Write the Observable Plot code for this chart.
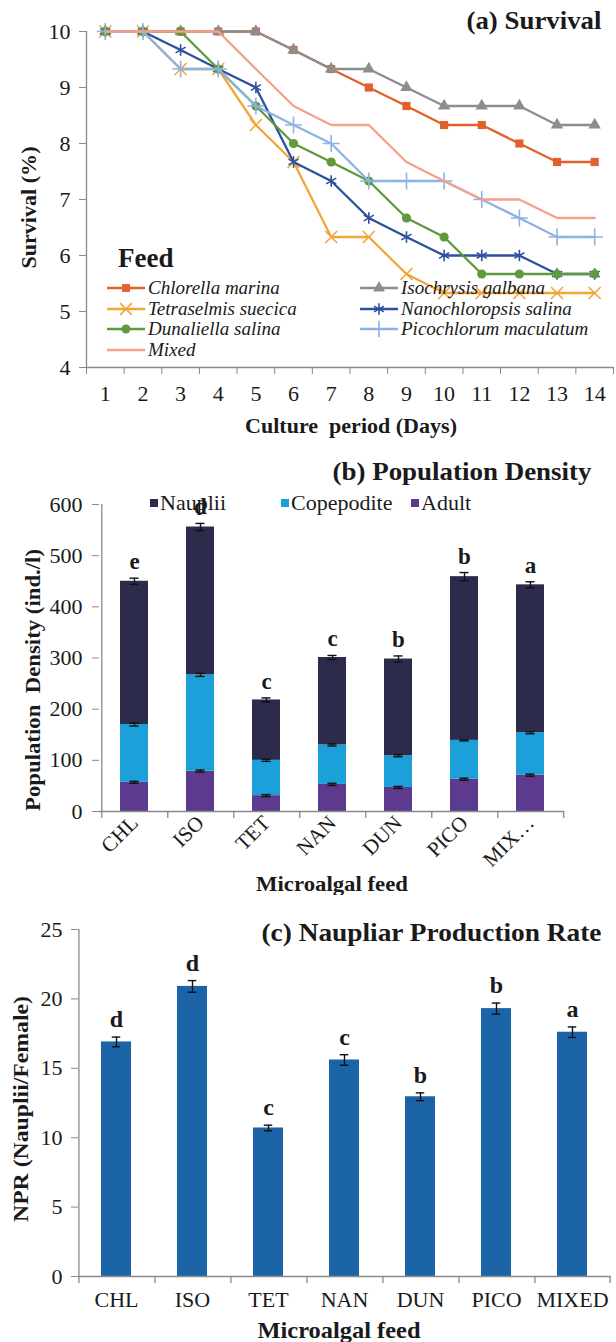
<!DOCTYPE html>
<html>
<head>
<meta charset="utf-8">
<script src="https://cdn.jsdelivr.net/npm/d3@7"></script>
<script src="https://cdn.jsdelivr.net/npm/@observablehq/plot@0.6"></script>
<style>
  body { margin: 0; background: #fff; width: 616px; font-family: "Liberation Serif", "Times New Roman", serif; color: #1a1a1a; }
  .panel { position: relative; width: 616px; }
  .panel svg { display: block; }
  .legA { position: absolute; left: 106px; top: 244px; }
  .legA .feed { font-weight: bold; font-size: 27px; line-height: 28px; margin-left: 12px; }
  .legA .grid { display: grid; grid-template-columns: 253px 262px; margin-top: 6px; }
  .legA .item { display: flex; align-items: center; height: 20.6px; font-style: italic; font-size: 19px; white-space: nowrap; }
  .legA .item svg { margin-right: 2px; }
  .legB { position: absolute; left: 150px; top: 47px; display: flex; font-size: 22px; }
  .legB .item { display: flex; align-items: center; height: 22px; white-space: nowrap; }
  .legB .sw { width: 8px; height: 8px; margin-right: 2px; }
</style>
</head>
<body>
<div id="a" class="panel"></div>
<div id="b" class="panel"></div>
<div id="c" class="panel"></div>
<script>
// ---------- Panel (a) data: Survival ----------
const days = [1, 2, 3, 4, 5, 6, 7, 8, 9, 10, 11, 12, 13, 14];
const chlorella      = [10, 10, 10, 10, 10, 9.67, 9.33, 9, 8.67, 8.33, 8.33, 8, 7.67, 7.67];
const isochrysis     = [10, 10, 10, 10, 10, 9.67, 9.33, 9.33, 9, 8.67, 8.67, 8.67, 8.33, 8.33];
const tetraselmis    = [10, 10, 9.33, 9.33, 8.33, 7.67, 6.33, 6.33, 5.67, 5.33, 5.33, 5.33, 5.33, 5.33];
const nanochloropsis = [10, 10, 9.67, 9.33, 9, 7.67, 7.33, 6.67, 6.33, 6, 6, 6, 5.67, 5.67];
const dunaliella     = [10, 10, 10, 9.33, 8.67, 8, 7.67, 7.33, 6.67, 6.33, 5.67, 5.67, 5.67, 5.67];
const picochlorum    = [10, 10, 9.33, 9.33, 8.67, 8.33, 8, 7.33, 7.33, 7.33, 7, 6.67, 6.33, 6.33];
const mixed          = [10, 10, 10, 10, 9.33, 8.67, 8.33, 8.33, 7.67, 7.33, 7, 7, 6.67, 6.67];
const seriesNames = ["Chlorella marina", "Isochrysis galbana", "Tetraselmis suecica", "Nanochloropsis salina", "Dunaliella salina", "Picochlorum maculatum", "Mixed"];
const seriesValues = [chlorella, isochrysis, tetraselmis, nanochloropsis, dunaliella, picochlorum, mixed];
const seriesColors = ["#e0612b", "#8d8d8d", "#f2a53a", "#2f4f9f", "#5f9a3c", "#8db3e2", "#f5a08d"];
const seriesSymbols = ["square", "triangle", "times", "asterisk", "circle", "plus", null];
const survivalTicks = [4, 5, 6, 7, 8, 9, 10];

// ---------- Panel (b) data: Population density ----------
const bCats = ["CHL", "ISO", "TET", "NAN", "DUN", "PICO", "MIXED"];
const bTickLabels = ["CHL", "ISO", "TET", "NAN", "DUN", "PICO", "MIX\u2026"];
const stages = ["Nauplii", "Copepodite", "Adult"];
const stageColors = ["#2c2b4c", "#1ca0d9", "#5c3a8e"];
const adult      = [57, 79, 31, 53, 47, 63, 71];
const copepodite = [113, 188, 69, 77, 62, 76, 83];
const nauplii    = [280, 289, 118, 171, 189, 320, 289];
const adultErr      = [2, 2, 2, 2, 2, 2, 2];
const copepoditeErr = [3, 3, 2, 2, 2, 1, 2];
const naupliiErr    = [6, 7, 4, 4, 6, 8, 6];
const bLetters = ["e", "d", "c", "c", "b", "b", "a"];
const densityTicks = [0, 100, 200, 300, 400, 500, 600];

// ---------- Panel (c) data: Naupliar production rate ----------
const cCats = ["CHL", "ISO", "TET", "NAN", "DUN", "PICO", "MIXED"];
const nprValues = [16.9, 20.9, 10.7, 15.6, 12.95, 19.3, 17.6];
const nprErr    = [0.35, 0.42, 0.2, 0.38, 0.28, 0.4, 0.38];
const cLetters  = ["d", "d", "c", "c", "b", "b", "a"];
const nprTicks  = [0, 5, 10, 15, 20, 25];
const nprColor  = "#1b64a7";

const axisGray = "#8a8a8a";
const textCol = "#1a1a1a";
const font = "'Liberation Serif', 'Times New Roman', serif";

// stretch a text to a given length (the reference's type is set wide)
function fitText(svg, str, len) {
  d3.select(svg).selectAll("text")
    .filter(function () { return this.textContent === str; })
    .attr("textLength", len).attr("lengthAdjust", "spacingAndGlyphs");
}

// =============== Panel (a) ===============
{
  const survival = seriesNames.flatMap((name, i) => days.map((d, j) => ({series: name, day: d, value: seriesValues[i][j]})));
  const bounds = days.map(d => d - 0.5).concat([days[days.length - 1] + 0.5]);
  const filledSyms = new Set(["square", "triangle", "circle"]);
  const seriesMarks = seriesNames.flatMap((name, i) => {
    const rows = survival.filter(d => d.series === name);
    const m = [Plot.line(rows, {x: "day", y: "value", stroke: seriesColors[i], strokeWidth: 2.3})];
    const s = seriesSymbols[i];
    if (s) {
      if (filledSyms.has(s)) m.push(Plot.dot(rows, {x: "day", y: "value", symbol: s, fill: seriesColors[i], r: 4.6}));
      else m.push(Plot.dot(rows, {x: "day", y: "value", symbol: s, stroke: seriesColors[i], strokeWidth: 1.6, r: 5.5}));
    }
    return m;
  });
  const titleA = "(a) Survival", xTitleA = "Culture  period (Days)", yTitleA = "Survival (%)";
  const plotA = Plot.plot({
    width: 616, height: 445,
    marginTop: 31, marginBottom: 78, marginLeft: 86, marginRight: 3,
    style: {fontFamily: font, fontSize: "22px", color: textCol, background: "#fff"},
    x: {type: "linear", domain: [0.5, 14.5], label: null},
    y: {domain: [4, 10], label: null},
    marks: [
      Plot.ruleX([0.5], {stroke: axisGray, strokeWidth: 1.3}),
      Plot.ruleY([4], {stroke: axisGray, strokeWidth: 1.3}),
      Plot.axisY({ticks: survivalTicks, tickSize: 7, tickPadding: 9, tickFormat: d => String(d), stroke: axisGray, fill: textCol, label: null, fontSize: 22}),
      Plot.axisX({ticks: days, tickSize: 0, tickPadding: 18, tickFormat: d => String(d), fill: textCol, label: null, fontSize: 22}),
      Plot.axisX({ticks: bounds, tickSize: 7, tickFormat: () => "", stroke: axisGray, label: null}),
      ...seriesMarks,
      Plot.text([titleA], {frameAnchor: "top-right", text: d => d, dx: -12, dy: -11, textAnchor: "end", lineAnchor: "middle", fontWeight: "bold", fontSize: 26, fill: textCol}),
      Plot.text([yTitleA], {frameAnchor: "left", text: d => d, rotate: -90, dx: -58, dy: 8, textAnchor: "middle", lineAnchor: "middle", fontWeight: "bold", fontSize: 22, fill: textCol}),
      Plot.text([xTitleA], {frameAnchor: "bottom", text: d => d, dx: 1, dy: 58, textAnchor: "middle", lineAnchor: "middle", fontWeight: "bold", fontSize: 22, fill: textCol})
    ]
  });
  fitText(plotA, titleA, 135);
  fitText(plotA, xTitleA, 212);
  fitText(plotA, yTitleA, 122);
  const host = document.getElementById("a");
  host.appendChild(plotA);
  // legend
  const symMap = {square: d3.symbolSquare, triangle: d3.symbolTriangle, times: d3.symbolTimes, asterisk: d3.symbolAsterisk, circle: d3.symbolCircle, plus: d3.symbolPlus};
  const leg = d3.select(host).append("div").attr("class", "legA");
  leg.append("div").attr("class", "feed").text("Feed");
  const grid = leg.append("div").attr("class", "grid");
  seriesNames.forEach((name, i) => {
    const item = grid.append("div").attr("class", "item");
    const sv = item.append("svg").attr("width", 40).attr("height", 20);
    sv.append("line").attr("x1", 1).attr("x2", 39).attr("y1", 10).attr("y2", 10).attr("stroke", seriesColors[i]).attr("stroke-width", 2.5);
    const s = seriesSymbols[i];
    if (s) {
      const p = sv.append("path").attr("transform", "translate(20,10)")
        .attr("d", d3.symbol(symMap[s], filledSyms.has(s) ? 62 : 90)());
      if (filledSyms.has(s)) p.attr("fill", seriesColors[i]);
      else p.attr("fill", "none").attr("stroke", seriesColors[i]).attr("stroke-width", 1.6);
    }
    item.append("span").text(name);
  });
}

// =============== Panel (b) ===============
{
  const segs = [adult, copepodite, nauplii];
  const segErr = [adultErr, copepoditeErr, naupliiErr];
  const segNames = ["Adult", "Copepodite", "Nauplii"];
  const rows = [];
  const errRows = [];
  bCats.forEach((cat, i) => {
    let cum = 0;
    segs.forEach((arr, k) => {
      rows.push({cat, stage: segNames[k], value: arr[i]});
      cum += arr[i];
      errRows.push({cat, top: cum, err: segErr[k][i], letter: k === 2 ? bLetters[i] : null});
    });
  });
  const left = 99, right = 52, W = 616;
  const step = (W - left - right) / bCats.length;
  const bw = step * 0.42;
  const capInset = (bw - 9) / 2;
  const titleB = "(b) Population Density", yTitleB = "Population  Density (ind./l)", xTitleB = "Microalgal feed";
  const plotB = Plot.plot({
    width: 616, height: 450,
    marginTop: 59, marginBottom: 84, marginLeft: left, marginRight: right,
    style: {fontFamily: font, fontSize: "22px", color: textCol, background: "#fff"},
    x: {type: "band", domain: bCats, paddingInner: 0.58, paddingOuter: 0.29, label: null},
    y: {domain: [0, 600], label: null},
    color: {domain: stages, range: stageColors},
    marks: [
      Plot.barY(rows, {x: "cat", y: "value", fill: "stage"}),
      Plot.ruleX(errRows, {x: "cat", y1: d => d.top - d.err, y2: d => d.top + d.err, stroke: "#111", strokeWidth: 1.4}),
      Plot.tickY(errRows, {x: "cat", y: d => d.top - d.err, stroke: "#111", strokeWidth: 1.4, insetLeft: capInset, insetRight: capInset}),
      Plot.tickY(errRows, {x: "cat", y: d => d.top + d.err, stroke: "#111", strokeWidth: 1.4, insetLeft: capInset, insetRight: capInset}),
      Plot.text(errRows.filter(d => d.letter), {x: "cat", y: d => d.top + d.err, text: "letter", dy: -9, lineAnchor: "bottom", fontWeight: "bold", fontSize: 23, fill: textCol}),
      Plot.ruleX([bCats[0]], {stroke: axisGray, strokeWidth: 1.3, dx: -step / 2 + 0.5}),
      Plot.ruleY([0], {stroke: axisGray, strokeWidth: 1.3}),
      Plot.ruleX(bCats, {x: d => d, y1: 0, y2: 0, insetBottom: -7, dx: -step / 2 + 0.5, stroke: axisGray, strokeWidth: 1.3}),
      Plot.ruleX([bCats[bCats.length - 1]], {x: d => d, y1: 0, y2: 0, insetBottom: -7, dx: step / 2, stroke: axisGray, strokeWidth: 1.3}),
      Plot.axisY({ticks: densityTicks, tickSize: 7, tickPadding: 10, stroke: axisGray, fill: textCol, label: null, fontSize: 22}),
      Plot.axisX({tickSize: 0, tickPadding: 8, tickRotate: -45, tickFormat: d => bTickLabels[bCats.indexOf(d)], fill: textCol, label: null, fontSize: 21}),
      Plot.text([titleB], {frameAnchor: "top-right", text: d => d, dx: 27, dy: -33, textAnchor: "end", lineAnchor: "middle", fontWeight: "bold", fontSize: 26, fill: textCol}),
      Plot.text([yTitleB], {frameAnchor: "left", text: d => d, rotate: -90, dx: -66, dy: 22, textAnchor: "middle", lineAnchor: "middle", fontWeight: "bold", fontSize: 21, fill: textCol}),
      Plot.text([xTitleB], {frameAnchor: "bottom", text: d => d, dy: 72, textAnchor: "middle", lineAnchor: "middle", fontWeight: "bold", fontSize: 22, fill: textCol})
    ]
  });
  fitText(plotB, titleB, 259);
  fitText(plotB, yTitleB, 262);
  fitText(plotB, xTitleB, 152);
  const host = document.getElementById("b");
  host.appendChild(plotB);
  const leg = d3.select(host).append("div").attr("class", "legB");
  const widths = [131, 130, 100];
  stages.forEach((s, i) => {
    const it = leg.append("div").attr("class", "item").style("width", widths[i] + "px");
    it.append("div").attr("class", "sw").style("background", stageColors[i]);
    it.append("span").text(s);
  });
}

// =============== Panel (c) ===============
{
  const rows = cCats.map((cat, i) => ({cat, v: nprValues[i], e: nprErr[i], letter: cLetters[i]}));
  const left = 78, right = 5, W = 616;
  const step = (W - left - right) / cCats.length;
  const bw = step * 0.4;
  const capInset = (bw - 9) / 2;
  const titleC = "(c) Naupliar Production Rate", yTitleC = "NPR (Nauplii/Female)", xTitleC = "Microalgal feed";
  const plotC = Plot.plot({
    width: 616, height: 447,
    marginTop: 34, marginBottom: 66, marginLeft: left, marginRight: right,
    style: {fontFamily: font, fontSize: "22px", color: textCol, background: "#fff"},
    x: {type: "band", domain: cCats, paddingInner: 0.6, paddingOuter: 0.3, label: null},
    y: {domain: [0, 25], label: null},
    marks: [
      Plot.barY(rows, {x: "cat", y: "v", fill: nprColor}),
      Plot.ruleX(rows, {x: "cat", y1: d => d.v - d.e, y2: d => d.v + d.e, stroke: "#111", strokeWidth: 1.4}),
      Plot.tickY(rows, {x: "cat", y: d => d.v - d.e, stroke: "#111", strokeWidth: 1.4, insetLeft: capInset, insetRight: capInset}),
      Plot.tickY(rows, {x: "cat", y: d => d.v + d.e, stroke: "#111", strokeWidth: 1.4, insetLeft: capInset, insetRight: capInset}),
      Plot.text(rows, {x: "cat", y: d => d.v + d.e, text: "letter", dy: -10, lineAnchor: "bottom", fontWeight: "bold", fontSize: 24, fill: textCol}),
      Plot.ruleX([cCats[0]], {stroke: axisGray, strokeWidth: 1.3, dx: -step / 2 + 0.5}),
      Plot.ruleY([0], {stroke: axisGray, strokeWidth: 1.3}),
      Plot.ruleX(cCats, {x: d => d, y1: 0, y2: 0, insetBottom: -7, dx: -step / 2 + 0.5, stroke: axisGray, strokeWidth: 1.3}),
      Plot.ruleX([cCats[cCats.length - 1]], {x: d => d, y1: 0, y2: 0, insetBottom: -7, dx: step / 2 - 0.5, stroke: axisGray, strokeWidth: 1.3}),
      Plot.axisY({ticks: nprTicks, tickSize: 7, tickPadding: 9, stroke: axisGray, fill: textCol, label: null, fontSize: 22}),
      Plot.axisX({tickSize: 0, tickPadding: 15, fill: textCol, label: null, fontSize: 22}),
      Plot.text([titleC], {frameAnchor: "top-right", text: d => d, dx: -10, dy: 3, textAnchor: "end", lineAnchor: "middle", fontWeight: "bold", fontSize: 26, fill: textCol}),
      Plot.text([yTitleC], {frameAnchor: "left", text: d => d, rotate: -90, dx: -58, dy: 6, textAnchor: "middle", lineAnchor: "middle", fontWeight: "bold", fontSize: 22, fill: textCol}),
      Plot.text([xTitleC], {frameAnchor: "bottom", text: d => d, dy: 54, dx: -6, textAnchor: "middle", lineAnchor: "middle", fontWeight: "bold", fontSize: 23, fill: textCol})
    ]
  });
  fitText(plotC, titleC, 340);
  fitText(plotC, yTitleC, 226);
  fitText(plotC, xTitleC, 163);
  document.getElementById("c").appendChild(plotC);
}
</script>
</body>
</html>
